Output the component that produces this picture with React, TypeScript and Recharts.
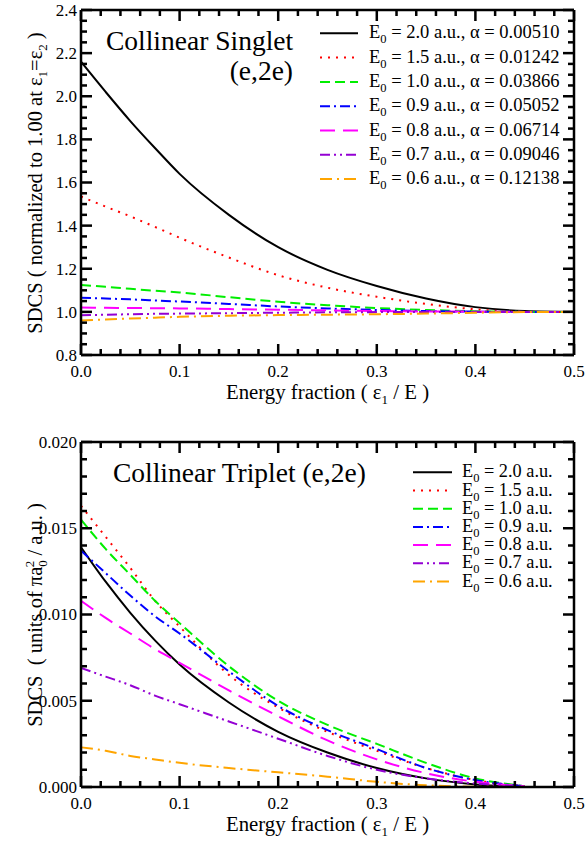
import React from "react";
import { LineChart, Line, XAxis, YAxis } from "recharts";

const FONT = '"Liberation Serif", "DejaVu Serif", "Times New Roman", serif';

// ── Data ─────────────────────────────────────────────────────────────────────
// energy fraction eps1 / E
const fraction = [0, 0.025, 0.05, 0.075, 0.1, 0.15, 0.2, 0.25, 0.3, 0.35, 0.4, 0.45, 0.5];

// singlet SDCS, normalized to 1.00 at eps1 = eps2
const singlet20 = [2.16, 2.02, 1.885, 1.76, 1.64, 1.45, 1.3, 1.195, 1.12, 1.062, 1.022, 1.004, 1.0];
const singlet15 = [1.535, 1.488, 1.443, 1.394, 1.344, 1.252, 1.17, 1.112, 1.07, 1.037, 1.012, 1.0, 1.0];
const singlet10 = [1.125, 1.116, 1.107, 1.098, 1.09, 1.068, 1.047, 1.031, 1.018, 1.009, 1.003, 1.0, 1.0];
const singlet09 = [1.066, 1.062, 1.058, 1.053, 1.048, 1.037, 1.025, 1.016, 1.009, 1.004, 1.001, 1.0, 1.0];
const singlet08 = [1.02, 1.019, 1.018, 1.017, 1.016, 1.013, 1.01, 1.007, 1.004, 1.002, 1.001, 1.0, 1.0];
const singlet07 = [0.984, 0.987, 0.989, 0.991, 0.992, 0.994, 0.996, 0.998, 0.999, 1.0, 1.0, 1.0, 1.0];
const singlet06 = [0.96, 0.965, 0.969, 0.973, 0.977, 0.982, 0.985, 0.987, 0.989, 0.992, 0.996, 0.999, 1.0];

// triplet SDCS, units of pi a0^2 / a.u.
const triplet20 = [0.0139, 0.0119, 0.0101, 0.0085, 0.0071, 0.0049, 0.0032, 0.002, 0.0011, 0.0005, 0.00015, 0.0, null];
const triplet15 = [0.0163, 0.0145, 0.0127, 0.0108, 0.0093, 0.0065, 0.0046, 0.0032, 0.0021, 0.0011, 0.0004, 0.00005, null];
const triplet10 = [0.0155, 0.0138, 0.0123, 0.0108, 0.0095, 0.007, 0.005, 0.0036, 0.0025, 0.0014, 0.0005, 0.00005, null];
const triplet09 = [0.0137, 0.0124, 0.0111, 0.0099, 0.0089, 0.0067, 0.0047, 0.0033, 0.0022, 0.0011, 0.0004, 0.00004, null];
const triplet08 = [0.0108, 0.0098, 0.0089, 0.008, 0.0072, 0.0056, 0.0041, 0.0027, 0.0016, 0.0008, 0.0003, 0.00005, null];
const triplet07 = [0.0069, 0.0064, 0.0059, 0.0053, 0.0048, 0.0038, 0.0028, 0.0018, 0.001, 0.0005, 0.0002, 0.00002, null];
const triplet06 = [0.0023, 0.0021, 0.0018, 0.0016, 0.0014, 0.0011, 0.00085, 0.0006, 0.0003, 0.0001, 0.00002, 0.0, null];

const energies = ["2.0", "1.5", "1.0", "0.9", "0.8", "0.7", "0.6"];
const alphas = ["0.00510", "0.01242", "0.03866", "0.05052", "0.06714", "0.09046", "0.12138"];
const seriesKeys = ["e20", "e15", "e10", "e09", "e08", "e07", "e06"];

// ── Ticks ─────────────────────────────────────────────────────────────────────
const xMajor = [0, 0.1, 0.2, 0.3, 0.4, 0.5];
const xMinor = [0.02, 0.04, 0.06, 0.08, 0.12, 0.14, 0.16, 0.18, 0.22, 0.24, 0.26, 0.28,
  0.32, 0.34, 0.36, 0.38, 0.42, 0.44, 0.46, 0.48];
const singletMajor = [0.8, 1.0, 1.2, 1.4, 1.6, 1.8, 2.0, 2.2, 2.4];
const singletMinor = [0.85, 0.9, 0.95, 1.05, 1.1, 1.15, 1.25, 1.3, 1.35, 1.45, 1.5, 1.55, 1.65, 1.7, 1.75,
  1.85, 1.9, 1.95, 2.05, 2.1, 2.15, 2.25, 2.3, 2.35];
const tripletMajor = [0, 0.005, 0.01, 0.015, 0.02];
const tripletMinor = [0.001, 0.002, 0.003, 0.004, 0.006, 0.007, 0.008, 0.009, 0.011, 0.012, 0.013, 0.014,
  0.016, 0.017, 0.018, 0.019];

// ── Styles / layout ───────────────────────────────────────────────────────────
const lineStyles = [
  { color: "#000000", dash: undefined },
  { color: "#ff0000", dash: "2 6" },
  { color: "#00ee00", dash: "10 5" },
  { color: "#0000ff", dash: "10 4 2 4" },
  { color: "#ff00ff", dash: "15 8" },
  { color: "#9400d3", dash: "10 4 2 4 2 4" },
  { color: "#ffa500", dash: "12 5 2 5" },
];

const WIDTH = 585;
const PLOT_LEFT = 81;
const PLOT_RIGHT = 574;
const X_DOMAIN: [number, number] = [0, 0.5];
const MAJOR_LEN = 11;
const MINOR_LEN = 6;
const TICK_W = 2.5;

const buildRows = (cols: (number | null)[][]) =>
  fraction.map((x, i) => {
    const row: Record<string, number | null> = { x };
    seriesKeys.forEach((k, j) => (row[k] = cols[j][i]));
    return row;
  });

const singletData = buildRows([singlet20, singlet15, singlet10, singlet09, singlet08, singlet07, singlet06]);
const tripletData = buildRows([triplet20, triplet15, triplet10, triplet09, triplet08, triplet07, triplet06]);

// ── Tick labels ──────────────────────────────────────────────────────────────
const NoLabel = () => <g />;

function XLabel(props: any) {
  const { x, y, payload } = props;
  return (
    <text x={x} y={y} textAnchor="middle" fontFamily={FONT} fontSize={17} fill="#000">
      {(payload.value as number).toFixed(1)}
    </text>
  );
}

function YLabel(props: any) {
  const { x, y, payload, digits } = props;
  return (
    <text x={x} y={y} dy="0.35em" textAnchor="end" fontFamily={FONT} fontSize={17} fill="#000">
      {(payload.value as number).toFixed(digits)}
    </text>
  );
}

interface PanelGeom {
  top: number; // page y of the chart box
  height: number; // chart box height
  plotTop: number; // page y of plot top
  plotBottom: number; // page y of plot bottom
}

const singletGeom: PanelGeom = { top: 0, height: 420, plotTop: 10, plotBottom: 355 };
const tripletGeom: PanelGeom = { top: 420, height: 424, plotTop: 442, plotBottom: 787 };

interface PanelProps {
  data: Record<string, number | null>[];
  yDomain: [number, number];
  yMajor: number[];
  yDigits: number;
  geom: PanelGeom;
}

function Panel({ data, yDomain, yMajor, yDigits, geom }: PanelProps) {
  const frame = { stroke: "#000", strokeWidth: 2.5 };
  // each axis takes 1px of the margin
  const margin = {
    top: geom.plotTop - geom.top - 1,
    bottom: geom.top + geom.height - geom.plotBottom - 1,
    left: PLOT_LEFT - 1,
    right: WIDTH - PLOT_RIGHT - 1,
  };
  return (
    <div style={{ position: "absolute", left: 0, top: geom.top }}>
      <LineChart width={WIDTH} height={geom.height} data={data} margin={margin}>
        <XAxis dataKey="x" type="number" domain={X_DOMAIN} allowDataOverflow ticks={xMajor} interval={0}
          height={1} tickSize={0} tickMargin={22} tickLine={false} axisLine={frame}
          tick={(p: any) => <XLabel {...p} />} />
        <XAxis xAxisId="top" orientation="top" dataKey="x" type="number" domain={X_DOMAIN} allowDataOverflow
          ticks={xMajor} height={1} tickSize={0} tickLine={false} axisLine={frame} tick={NoLabel} />
        <YAxis type="number" domain={yDomain} allowDataOverflow ticks={yMajor} interval={0} width={1}
          tickSize={0} tickMargin={4} tickLine={false} axisLine={frame}
          tick={(p: any) => <YLabel {...p} digits={yDigits} />} />
        <YAxis yAxisId="right" orientation="right" type="number" domain={yDomain} allowDataOverflow
          ticks={yMajor} width={1} tickSize={0} tickLine={false} axisLine={frame} tick={NoLabel} />
        {seriesKeys.map((k, i) => (
          <Line
            key={k}
            dataKey={k}
            type="monotone"
            stroke={lineStyles[i].color}
            strokeWidth={2}
            strokeDasharray={lineStyles[i].dash}
            dot={false}
            activeDot={false}
            isAnimationActive={false}
          />
        ))}
      </LineChart>
    </div>
  );
}

// ── Inward tick marks on all four sides (same linear mapping as the plot box) ─
function TickMarks({ geom, yDomain, yMajor, yMinor }: {
  geom: PanelGeom; yDomain: [number, number]; yMajor: number[]; yMinor: number[];
}) {
  const px = (v: number) => PLOT_LEFT + ((v - X_DOMAIN[0]) / (X_DOMAIN[1] - X_DOMAIN[0])) * (PLOT_RIGHT - PLOT_LEFT);
  const py = (v: number) =>
    geom.plotBottom - ((v - yDomain[0]) / (yDomain[1] - yDomain[0])) * (geom.plotBottom - geom.plotTop);
  const h = TICK_W / 2;
  const marks: React.ReactNode[] = [];
  const xs = [...xMajor.map((v) => ({ v, len: MAJOR_LEN })), ...xMinor.map((v) => ({ v, len: MINOR_LEN }))];
  xs.forEach(({ v, len }, i) => {
    const x = px(v);
    marks.push(<rect key={"xb" + i} x={x - h} y={geom.plotBottom - len} width={TICK_W} height={len} />);
    marks.push(<rect key={"xt" + i} x={x - h} y={geom.plotTop} width={TICK_W} height={len} />);
  });
  const ys = [...yMajor.map((v) => ({ v, len: MAJOR_LEN })), ...yMinor.map((v) => ({ v, len: MINOR_LEN }))];
  ys.forEach(({ v, len }, i) => {
    const y = py(v);
    marks.push(<rect key={"yl" + i} x={PLOT_LEFT} y={y - h} width={len} height={TICK_W} />);
    marks.push(<rect key={"yr" + i} x={PLOT_RIGHT - len} y={y - h} width={len} height={TICK_W} />);
  });
  return <g fill="#000">{marks}</g>;
}

// ── Text overlay: titles, legends, axis titles ───────────────────────────────
function Overlay() {
  return (
    <svg
      width={WIDTH}
      height={844}
      style={{ position: "absolute", left: 0, top: 0, pointerEvents: "none" }}
      fontFamily={FONT}
      fill="#000"
    >
      <TickMarks geom={singletGeom} yDomain={[0.8, 2.4]} yMajor={singletMajor} yMinor={singletMinor} />
      <TickMarks geom={tripletGeom} yDomain={[0, 0.02]} yMajor={tripletMajor} yMinor={tripletMinor} />

      {/* top panel */}
      <text x={106} y={50} fontSize={27.5}>Collinear Singlet</text>
      <text x={293} y={80} fontSize={27.5} textAnchor="end">(e,2e)</text>
      {energies.map((e, i) => {
        const b = 38.3 + i * 24.3;
        return (
          <g key={"s" + e}>
            <line x1={320} x2={358} y1={b - 5} y2={b - 5} stroke={lineStyles[i].color} strokeWidth={2}
              strokeDasharray={lineStyles[i].dash} />
            <text x={369} y={b} fontSize={18.5}>
              E
              <tspan dy={5} fontSize={12.5}>0</tspan>
              <tspan dy={-5}>{` = ${e} a.u., \u03b1 = ${alphas[i]}`}</tspan>
            </text>
          </g>
        );
      })}
      <text x={327.5} y={399} fontSize={20.8} textAnchor="middle">
        Energy fraction ( ε<tspan dy={5} fontSize={13}>1</tspan>
        <tspan dy={-5}> / E )</tspan>
      </text>
      <text transform="translate(42,183) rotate(-90)" fontSize={20.5} textAnchor="middle">
        SDCS ( normalized to 1.00 at ε<tspan dy={5} fontSize={13}>1</tspan>
        <tspan dy={-5}>=ε</tspan>
        <tspan dy={5} fontSize={13}>2</tspan>
        <tspan dy={-5}> )</tspan>
      </text>

      {/* bottom panel */}
      <text x={113} y={482} fontSize={27.5}>Collinear Triplet (e,2e)</text>
      {energies.map((e, i) => {
        const b = 477.3 + i * 18.2;
        return (
          <g key={"t" + e}>
            <line x1={413} x2={452} y1={b - 5} y2={b - 5} stroke={lineStyles[i].color} strokeWidth={2}
              strokeDasharray={lineStyles[i].dash} />
            <text x={462} y={b} fontSize={18.3}>
              E
              <tspan dy={5} fontSize={12.5}>0</tspan>
              <tspan dy={-5}>{` = ${e} a.u.`}</tspan>
            </text>
          </g>
        );
      })}
      <text x={327.5} y={831} fontSize={20.8} textAnchor="middle">
        Energy fraction ( ε<tspan dy={5} fontSize={13}>1</tspan>
        <tspan dy={-5}> / E )</tspan>
      </text>
      <text transform="translate(42,615) rotate(-90)" fontSize={20.5} textAnchor="middle">
        {"SDCS\u00a0\u00a0( units of πa"}
        <tspan dy={5} fontSize={13}>0</tspan>
        <tspan dx={-7} dy={-13} fontSize={13}>2</tspan>
        <tspan dy={8}>{" / a.u. )"}</tspan>
      </text>
    </svg>
  );
}

export default function App() {
  return (
    <div style={{ position: "absolute", left: 0, top: 0, width: WIDTH, height: 844, background: "#fff" }}>
      <Panel data={singletData} yDomain={[0.8, 2.4]} yMajor={singletMajor} yDigits={1} geom={singletGeom} />
      <Panel data={tripletData} yDomain={[0, 0.02]} yMajor={tripletMajor} yDigits={3} geom={tripletGeom} />
      <Overlay />
    </div>
  );
}
